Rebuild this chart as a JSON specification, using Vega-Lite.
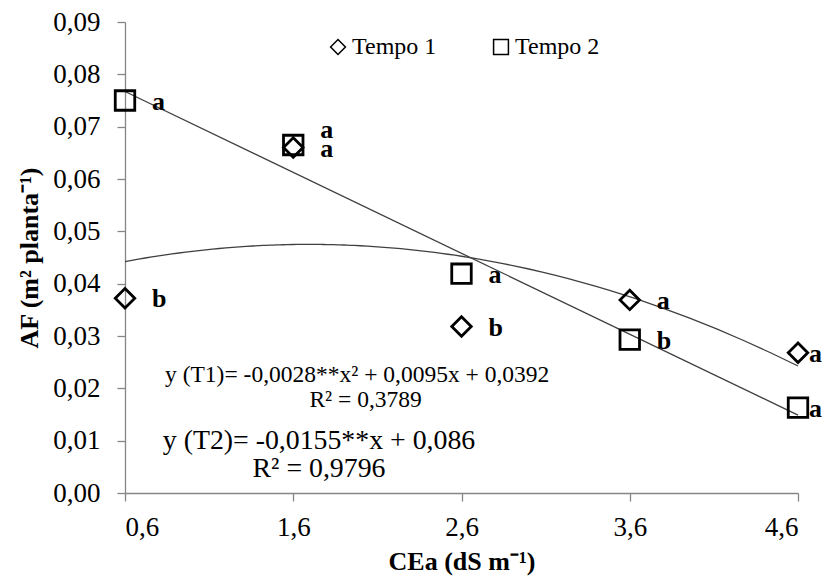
{
  "$schema": "https://vega.github.io/schema/vega-lite/v6.json",
  "width": 673,
  "height": 471,
  "autosize": "none",
  "padding": {"left": 125, "top": 22, "right": 26, "bottom": 83},
  "background": "white",
  "config": {
    "view": {"stroke": null},
    "font": "Liberation Serif",
    "axis": {
      "grid": false,
      "domainColor": "#868686",
      "domainWidth": 1.3,
      "tickColor": "#868686",
      "tickSize": 8,
      "tickWidth": 1.3,
      "labelFont": "Liberation Serif",
      "labelFontSize": 27,
      "labelColor": "black",
      "titleFont": "Liberation Serif",
      "titleFontSize": 26,
      "titleFontWeight": "bold",
      "titleColor": "black"
    }
  },
  "data": {
    "values": [
      {"tempo": "Tempo 1", "cea": 0.6, "af": 0.0372, "letra": "b"},
      {"tempo": "Tempo 1", "cea": 1.6, "af": 0.066, "letra": "a"},
      {"tempo": "Tempo 1", "cea": 2.6, "af": 0.0318, "letra": "b"},
      {"tempo": "Tempo 1", "cea": 3.6, "af": 0.0369, "letra": "a"},
      {"tempo": "Tempo 1", "cea": 4.6, "af": 0.0268, "letra": "a"},
      {"tempo": "Tempo 2", "cea": 0.6, "af": 0.075, "letra": "a"},
      {"tempo": "Tempo 2", "cea": 1.6, "af": 0.0665, "letra": "a"},
      {"tempo": "Tempo 2", "cea": 2.6, "af": 0.0419, "letra": "a"},
      {"tempo": "Tempo 2", "cea": 3.6, "af": 0.0293, "letra": "b"},
      {"tempo": "Tempo 2", "cea": 4.6, "af": 0.0163, "letra": "a"}
    ]
  },
  "encoding": {
    "x": {
      "field": "cea",
      "type": "quantitative",
      "scale": {"domain": [0.6, 4.6], "nice": false, "zero": false},
      "axis": {
        "title": "CEa (dS m⁻¹)",
        "values": [0.6, 1.6, 2.6, 3.6, 4.6],
        "labelExpr": "replace(format(datum.value, '.1f'), '.', ',')",
        "labelPadding": 13,
        "titlePadding": 8
      }
    },
    "y": {
      "field": "af",
      "type": "quantitative",
      "scale": {"domain": [0, 0.09], "nice": false},
      "axis": {
        "title": "AF (m² planta⁻¹)",
        "values": [0, 0.01, 0.02, 0.03, 0.04, 0.05, 0.06, 0.07, 0.08, 0.09],
        "labelExpr": "replace(format(datum.value, '.2f'), '.', ',')",
        "labelPadding": 17,
        "titlePadding": 10
      }
    }
  },
  "layer": [
    {
      "transform": [
        {"filter": "datum.tempo === 'Tempo 1'"},
        {"regression": "af", "on": "cea", "method": "poly", "order": 2, "extent": [0.6, 4.6]}
      ],
      "mark": {"type": "line", "color": "#404040", "strokeWidth": 1.3},
      "encoding": {}
    },
    {
      "transform": [
        {"filter": "datum.tempo === 'Tempo 2'"},
        {"regression": "af", "on": "cea", "method": "linear", "extent": [0.6, 4.6]}
      ],
      "mark": {"type": "line", "color": "#404040", "strokeWidth": 1.3},
      "encoding": {}
    },
    {
      "mark": {"type": "point", "filled": false, "color": "black", "strokeWidth": 2.8, "size": 380, "opacity": 1},
      "encoding": {
        "shape": {
          "field": "tempo",
          "type": "nominal",
          "scale": {"domain": ["Tempo 1", "Tempo 2"], "range": ["diamond", "square"]},
          "legend": {
            "orient": "none",
            "legendX": 201,
            "legendY": 13,
            "direction": "horizontal",
            "title": null,
            "labelFont": "Liberation Serif",
            "labelFontSize": 24,
            "labelColor": "black",
            "symbolSize": 220,
            "symbolStrokeWidth": 1.5,
            "symbolStrokeColor": "black",
            "symbolFillColor": "white",
            "labelOffset": 2,
            "columnPadding": 52
          }
        }
      }
    },
    {
      "transform": [{"filter": "datum.cea < 4 && !(datum.cea === 1.6 && datum.tempo === 'Tempo 2')"}],
      "mark": {"type": "text", "align": "left", "baseline": "middle", "dx": 27, "dy": 1, "fontSize": 26, "fontWeight": "bold", "color": "black"},
      "encoding": {"text": {"field": "letra"}}
    },
    {
      "transform": [{"filter": "datum.cea === 1.6 && datum.tempo === 'Tempo 2'"}],
      "mark": {"type": "text", "align": "left", "baseline": "middle", "dx": 27, "dy": -15, "fontSize": 26, "fontWeight": "bold", "color": "black"},
      "encoding": {"text": {"field": "letra"}}
    },
    {
      "transform": [{"filter": "datum.cea > 4"}],
      "mark": {"type": "text", "align": "left", "baseline": "middle", "dx": 11, "dy": 1, "fontSize": 26, "fontWeight": "bold", "color": "black"},
      "encoding": {"text": {"field": "letra"}}
    },
    {
      "transform": [{"filter": "datum.cea === 0.6 && datum.tempo === 'Tempo 1'"}],
      "mark": {"type": "text", "align": "center", "baseline": "middle", "fontSize": 23.5, "fontWeight": "normal", "color": "black"},
      "encoding": {
        "x": {"datum": 1.98},
        "y": {"datum": 0.0226},
        "text": {"value": "y (T1)= -0,0028**x² + 0,0095x + 0,0392"}
      }
    },
    {
      "transform": [{"filter": "datum.cea === 0.6 && datum.tempo === 'Tempo 1'"}],
      "mark": {"type": "text", "align": "center", "baseline": "middle", "fontSize": 23.5, "fontWeight": "normal", "color": "black"},
      "encoding": {
        "x": {"datum": 2.03},
        "y": {"datum": 0.0178},
        "text": {"value": "R² = 0,3789"}
      }
    },
    {
      "transform": [{"filter": "datum.cea === 0.6 && datum.tempo === 'Tempo 2'"}],
      "mark": {"type": "text", "align": "center", "baseline": "middle", "fontSize": 27.8, "fontWeight": "normal", "color": "black"},
      "encoding": {
        "x": {"datum": 1.753},
        "y": {"datum": 0.0100},
        "text": {"value": "y (T2)= -0,0155**x + 0,086"}
      }
    },
    {
      "transform": [{"filter": "datum.cea === 0.6 && datum.tempo === 'Tempo 2'"}],
      "mark": {"type": "text", "align": "center", "baseline": "middle", "fontSize": 27.8, "fontWeight": "normal", "color": "black"},
      "encoding": {
        "x": {"datum": 1.753},
        "y": {"datum": 0.0046},
        "text": {"value": "R² = 0,9796"}
      }
    }
  ]
}
